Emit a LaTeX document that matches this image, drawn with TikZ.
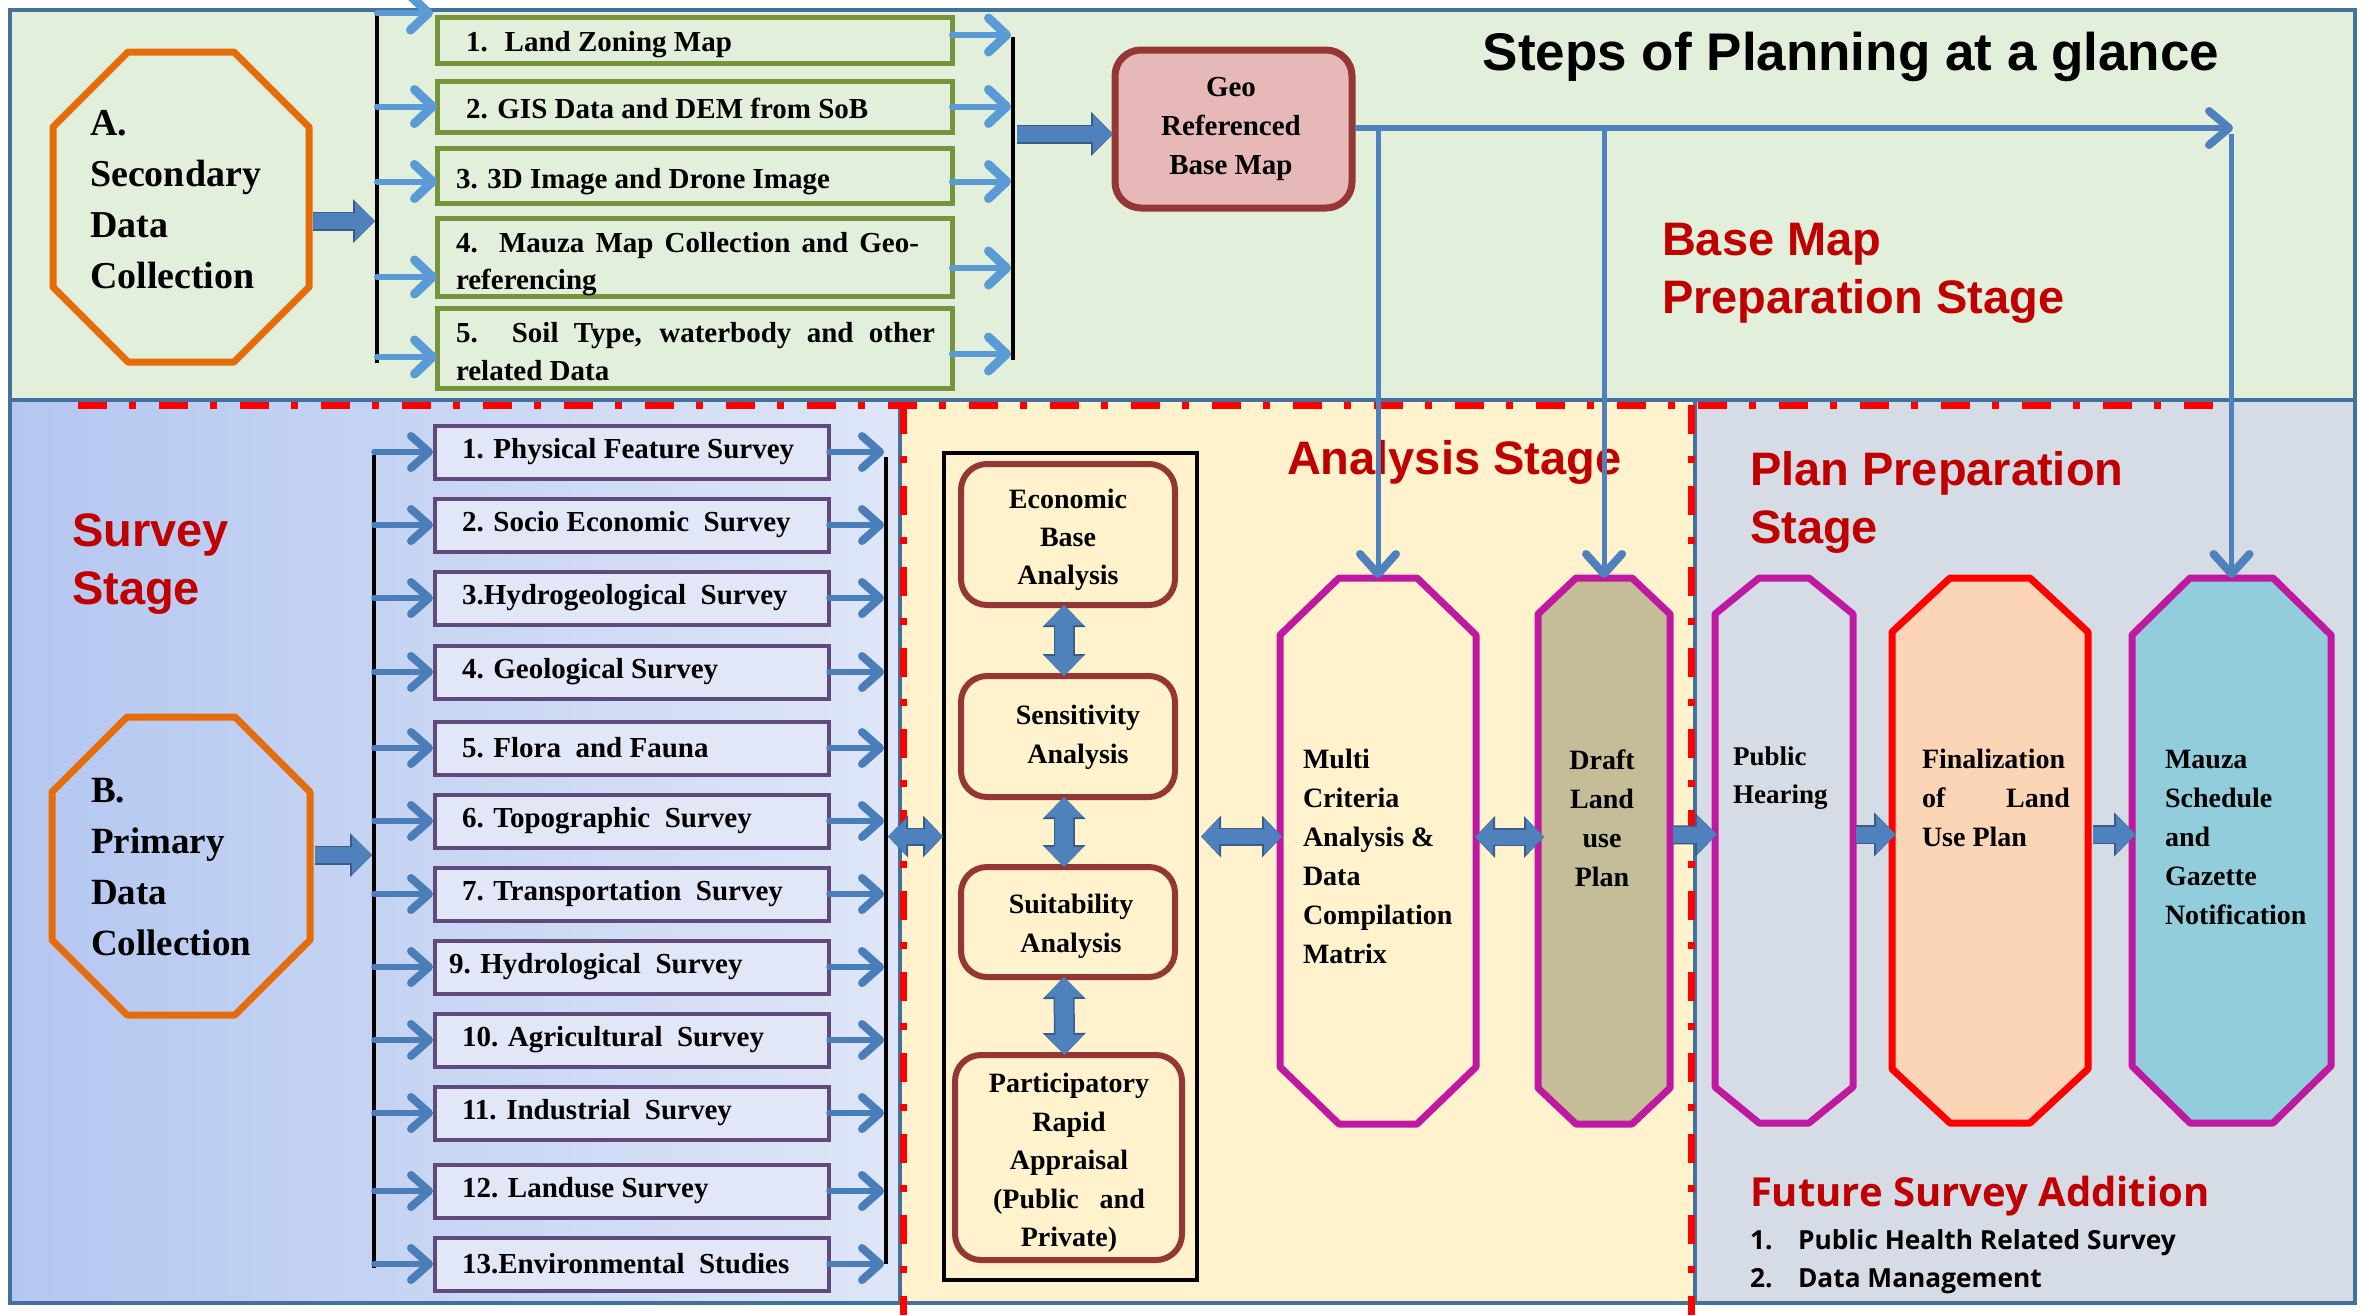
\documentclass[tikz,border=0pt]{standalone}
\usepackage{fontspec}
\setmainfont{Liberation Serif}
\newfontfamily\arialf{Liberation Sans}
\newfontfamily\osansf{Open Sans}
\usetikzlibrary{arrows.meta,calc,fit}
\definecolor{topbg}{RGB}{226,239,218}
\definecolor{survL}{RGB}{180,199,240}
\definecolor{survR}{RGB}{222,230,247}
\definecolor{anbg}{RGB}{255,242,204}
\definecolor{planbg}{RGB}{214,220,229}
\definecolor{panelborder}{RGB}{65,113,156}
\definecolor{lightarrow}{RGB}{91,155,213}
\definecolor{midarrow}{RGB}{74,126,187}
\definecolor{fatfill}{RGB}{79,129,189}
\definecolor{fatdark}{RGB}{56,93,138}
\definecolor{orangeoct}{RGB}{228,108,10}
\definecolor{greenbox}{RGB}{119,147,60}
\definecolor{geofill}{RGB}{230,185,184}
\definecolor{geodraw}{RGB}{149,55,53}
\definecolor{brownbox}{RGB}{148,54,52}
\definecolor{magoct}{RGB}{190,25,160}
\definecolor{draftfill}{RGB}{196,189,151}
\definecolor{finfill}{RGB}{251,213,181}
\definecolor{mauzafill}{RGB}{146,205,220}
\definecolor{stagered}{RGB}{192,0,0}
\definecolor{survbox}{RGB}{96,74,123}
\definecolor{survfill}{RGB}{225,231,247}
\newcommand\octagonpath[4]{%
  \draw[#4] ([xshift=#2]#1.north west) -- ([xshift=-#2]#1.north east) -- ([yshift=-#3]#1.north east) -- ([yshift=#3]#1.south east) -- ([xshift=-#2]#1.south east) -- ([xshift=#2]#1.south west) -- ([yshift=#3]#1.south west) -- ([yshift=-#3]#1.north west) -- cycle;}
\begin{document}
\begin{tikzpicture}[x=1pt,y=-1pt,
  frame/.style={inner sep=0pt, outer sep=0pt, draw=none},
  toparr/.style={draw=lightarrow, line width=6pt, line cap=round, -{Straight Barb[length=18pt,width=34pt,line width=9pt,round]}},
  survarr/.style={draw=midarrow, line width=5.5pt, line cap=round, -{Straight Barb[length=18pt,width=32pt,line width=8pt,round]}},
  geoarr/.style={draw=fatfill, line width=6pt, -{Straight Barb[length=20pt,width=34pt,line width=8pt,round]}},
  vgeo/.style={draw=fatfill, line width=5pt, -{Straight Barb[length=20pt,width=36pt,line width=8pt,round]}},
  fat/.style={draw=fatfill, line width=16pt, -{Triangle[length=20pt,width=38pt,line width=0pt]},
     preaction={draw=fatdark, line width=19pt, -{Triangle[length=22pt,width=44pt,line width=0pt]}}},
  fatdbl/.style={draw=fatfill, line width=15pt, {Triangle[length=18pt,width=36pt,line width=0pt]}-{Triangle[length=18pt,width=36pt,line width=0pt]},
     preaction={draw=fatdark, line width=18pt, {Triangle[length=20pt,width=42pt,line width=0pt]}-{Triangle[length=20pt,width=42pt,line width=0pt]}}},
  vdbl/.style={draw=fatfill, line width=18pt, {Triangle[length=20pt,width=38pt,line width=0pt]}-{Triangle[length=20pt,width=38pt,line width=0pt]},
     preaction={draw=fatdark, line width=21pt, {Triangle[length=22pt,width=43pt,line width=0pt]}-{Triangle[length=22pt,width=43pt,line width=0pt]}}},
  bracket/.style={draw=black, line width=4pt},
  panelb/.style={draw=panelborder, line width=3.5pt},
  reddash/.style={draw=red, line width=7pt, dash pattern=on 29pt off 22pt on 7pt off 23pt},
  gbox/.style={frame, draw=greenbox, line width=5pt},
  sbox/.style={inner sep=0pt, outer sep=0pt, draw=survbox, fill=survfill, line width=4pt, minimum width=394pt, minimum height=53pt},
  abox/.style={frame, draw=brownbox, line width=6pt, rounded corners=26pt},
  txt/.style={inner sep=0pt, outer sep=0pt, text=black},
  stagetxt/.style={inner sep=0pt, outer sep=0pt, text=stagered, align=left, font=\arialf\bfseries\fontsize{47}{58}\selectfont},
  octorange/.style={draw=orangeoct, line width=7pt, line join=round},
  octmag/.style={draw=magoct, line width=7pt, line join=round}
]
\useasboundingbox (0,0) rectangle (2369,1315);
\fill[white] (0,0) rectangle (2369,1315);
% panels
\fill[topbg] (10,10) rectangle (2355,400);
\shade[left color=survL, right color=survR] (10,400) rectangle (900,1303);
\fill[anbg] (900,400) rectangle (1695,1303);
\fill[planbg] (1695,400) rectangle (2355,1303);
\draw[panelb] (10,10) rectangle (2355,400);
\draw[panelb] (10,400) rectangle (900,1303);
\draw[panelb] (900,400) rectangle (1695,1303);
\draw[panelb] (1695,400) rectangle (2355,1303);
% red stage borders
\draw[reddash] (78,405) -- (2232,405);
\draw[reddash] (903,405) -- (903,1315);
\draw[reddash] (1691,405) -- (1691,1315);

% ---------- top panel ----------
\node[frame, fit={(53,52) (309,362)}] (octA) {};
\octagonpath{octA}{75pt}{75pt}{octorange}
\node[txt, anchor=west, align=left, font=\bfseries\fontsize{38}{51}\selectfont] (octAtxt) at (90,200) {A.\\Secondary\\Data\\Collection};

\coordinate (brAtop) at (377,13);
\coordinate (brAbot) at (377,363);
\coordinate (brBtop) at (1013,37);
\coordinate (brBbot) at (1013,360);
\coordinate (stubA) at (433,13);
\draw[bracket] (brAtop) -- (brAbot);
\draw[bracket] (brBtop) -- (brBbot);

\node[gbox, fit={(437,17) (952,63)}] (b1) {};
\node[gbox, fit={(437,81) (952,132)}] (b2) {};
\node[gbox, fit={(437,148) (952,203)}] (b3) {};
\node[gbox, fit={(437,218) (952,296)}] (b4) {};
\node[gbox, fit={(437,308) (952,388)}] (b5) {};
\node[txt, anchor=west, font=\bfseries\fontsize{29}{37}\selectfont] (tb1) at (466,45) {1.~ Land Zoning Map};
\node[txt, anchor=west, font=\bfseries\fontsize{29}{37}\selectfont] (tb2) at (466,108) {2. GIS Data and DEM from SoB};
\node[txt, anchor=west, font=\bfseries\fontsize{29}{37}\selectfont] (tb3) at (456,182) {3. 3D Image and Drone Image};
\node[txt, anchor=west, align=left, font=\bfseries\fontsize{29}{37}\selectfont] (tb4) at (456,264) {\makebox[463pt][s]{4. Mauza Map Collection and Geo-}\\referencing};
\node[txt, anchor=west, align=left, font=\bfseries\fontsize{29}{38}\selectfont] (tb5) at (456,352) {\makebox[479pt][s]{5. Soil Type, waterbody and other}\\related Data};

\draw[toparr] (brAtop) -- (stubA);
\draw[toparr] (brAtop |- b2.west) -- (b2.west);
\draw[toparr] ($(brAtop |- b3.west)+(0,6)$) -- ($(b3.west)+(0,6)$);
\draw[toparr] ($(brAtop |- b4.west)+(0,20)$) -- ($(b4.west)+(0,20)$);
\draw[toparr] ($(brAtop |- b5.west)+(0,9)$) -- ($(b5.west)+(0,9)$);
\draw[toparr] ($(b1.east)+(0,-5)$) -- ($(b1.east -| brBtop)+(-2,-5)$);
\draw[toparr] (b2.east) -- ($(b2.east -| brBtop)+(-2,0)$);
\draw[toparr] ($(b3.east)+(0,6)$) -- ($(b3.east -| brBtop)+(-2,6)$);
\draw[toparr] ($(b4.east)+(0,11)$) -- ($(b4.east -| brBtop)+(-2,11)$);
\draw[toparr] ($(b5.east)+(0,6)$) -- ($(b5.east -| brBtop)+(-2,6)$);

\draw[fat] ($(octA.east)+(4,14)$) -- ($(octA.east -| brAtop)+(-2,14)$);

\node[frame, fit={(1115,50) (1352,208)}, draw=geodraw, fill=geofill, line width=7pt, rounded corners=26pt] (geo) {};
\node[txt, align=center, font=\bfseries\fontsize{29}{39}\selectfont] (geotxt) at (1231,129) {Geo\\Referenced\\Base Map};
\draw[fat] ($(geo.west -| brBtop)+(4,5)$) -- ($(geo.west)+(-2,5)$);

\node[txt, font=\arialf\bfseries\fontsize{53}{60}\selectfont] (title) at (1851,57) {Steps of Planning at a glance};
\node[stagetxt, anchor=west] (bmstage) at (1662,273) {Base Map\\Preparation Stage};

% ---------- survey panel ----------
\node[stagetxt, anchor=west] (svstage) at (72,564) {Survey\\Stage};
\node[frame, fit={(52,717) (310,1015)}] (octB) {};
\octagonpath{octB}{75pt}{75pt}{octorange}
\node[txt, anchor=west, align=left, font=\bfseries\fontsize{37}{51}\selectfont] (octBtxt) at (91,867) {B.\\Primary\\Data\\Collection};

\coordinate (sbrLtop) at (374,455);
\coordinate (sbrLbot) at (374,1268);
\coordinate (sbrRtop) at (886,457);
\coordinate (sbrRbot) at (886,1264);
\draw[bracket] (sbrLtop) -- (sbrLbot);
\draw[bracket] (sbrRtop) -- (sbrRbot);

\foreach \i/\yc/\tx/\lab in {
  1/452/462/{1. Physical Feature Survey},
  2/525/462/{2. Socio Economic~ Survey},
  3/598/462/{3.Hydrogeological~ Survey},
  4/672/462/{4. Geological Survey},
  5/748/462/{5. Flora~ and Fauna},
  6/821/462/{6. Topographic~ Survey},
  7/894/462/{7. Transportation~ Survey},
  8/967/449/{9. Hydrological~ Survey},
  9/1040/462/{10. Agricultural~ Survey},
  10/1113/462/{11. Industrial~ Survey},
  11/1191/462/{12. Landuse Survey},
  12/1264/462/{13.Environmental~ Studies}}{
  \node[sbox] (s\i) at (632,\yc) {};
  \node[txt, anchor=west, font=\bfseries\fontsize{29}{35}\selectfont] (st\i) at (\tx,\yc) {\lab};
  \draw[survarr] (sbrLtop |- s\i.west) -- ($(s\i.west)+(-2,0)$);
  \draw[survarr] (s\i.east) -- ($(s\i.east -| sbrRtop)+(-2,0)$);
}
\draw[fat] ($(octB.east)+(5,-11)$) -- ($(octB.east -| sbrLtop)+(-2,-11)$);

% ---------- analysis panel ----------
\node[stagetxt, anchor=west] (anstage) at (1287,462) {Analysis Stage};
\node[frame, fit={(944,453) (1197,1280)}, draw=black, line width=4pt] (bb) {};
\node[abox, fit={(961,464) (1175,605)}] (eb) {};
\node[abox, fit={(961,676) (1175,797)}] (sa) {};
\node[abox, fit={(961,867) (1175,977)}] (su) {};
\node[abox, fit={(955,1055) (1182,1260)}] (pr) {};
\node[txt, align=center, font=\bfseries\fontsize{28}{38}\selectfont] (ebt) at (1068,540) {Economic\\Base\\Analysis};
\node[txt, align=center, font=\bfseries\fontsize{28}{39}\selectfont] (sat) at (1078,737) {Sensitivity\\Analysis};
\node[txt, align=center, font=\bfseries\fontsize{28}{39}\selectfont] (sut) at (1071,926) {Suitability\\Analysis};
\node[txt, align=center, font=\bfseries\fontsize{28}{38.5}\selectfont] (prt) at (1069,1163) {Participatory\\Rapid\\Appraisal\\(Public\hspace{0.5em} and\\Private)};
\draw[vdbl] ($(eb.south)+(-4,0)$) -- ($(sa.north)+(-4,0)$);
\draw[vdbl] ($(sa.south)+(-4,0)$) -- ($(su.north)+(-4,0)$);
\draw[vdbl] ($(su.south)+(-4,0)$) -- ($(pr.north)+(-4,0)$);

\node[frame, fit={(1280,578) (1476,1124)}] (multi) {};
\octagonpath{multi}{59pt}{57pt}{octmag}
\node[txt, anchor=west, align=left, font=\bfseries\fontsize{28}{39}\selectfont] (multit) at (1303,856) {Multi\\Criteria\\Analysis \&\\Data\\Compilation\\Matrix};

\node[frame, fit={(1538,578) (1670,1124)}] (draft) {};
\octagonpath{draft}{38pt}{36pt}{octmag, fill=draftfill}
\node[txt, align=center, font=\bfseries\fontsize{28}{39}\selectfont] (draftt) at (1602,818) {Draft\\Land\\use\\Plan};

\draw[fatdbl] ($(sbrRtop |- bb.west)+(2,-30)$) -- ($(bb.west)+(-1,-30)$);
\draw[fatdbl] ($(bb.east)+(4,-30)$) -- ($(bb.east -| multi.west)+(2,-30)$);
\draw[fatdbl] ($(multi.east)+(-1,-14)$) -- ($(draft.west)+(6,-14)$);

% ---------- plan panel ----------
\node[stagetxt, anchor=west] (plstage) at (1750,502) {Plan Preparation\\Stage};
\node[frame, fit={(1715,578) (1853,1123)}] (public) {};
\octagonpath{public}{44pt}{36pt}{octmag}
\node[txt, anchor=west, align=left, font=\bfseries\fontsize{27}{38}\selectfont] (publict) at (1733,778) {Public\\Hearing};

\node[frame, fit={(1892,578) (2088,1123)}] (final) {};
\octagonpath{final}{58pt}{54pt}{draw=red, line width=7pt, line join=round, fill=finfill}
\node[txt, anchor=west, align=left, font=\bfseries\fontsize{28}{39}\selectfont] (finalt) at (1922,798) {Finalization\\\makebox[148pt][s]{of Land}\\Use Plan};

\node[frame, fit={(2132,578) (2331,1123)}] (mauza) {};
\octagonpath{mauza}{58pt}{57pt}{octmag, fill=mauzafill}
\node[txt, anchor=west, align=left, font=\bfseries\fontsize{28}{39}\selectfont] (mauzat) at (2165,837) {Mauza\\Schedule\\and\\Gazette\\Notification};

\draw[fat] ($(draft.east)+(3,-16)$) -- ($(public.west)+(2,-16)$);
\draw[fat] ($(public.east)+(3,-16)$) -- ($(final.west)+(4,-16)$);
\draw[fat] ($(final.east)+(5,-16)$) -- ($(mauza.west)+(4,-16)$);

\node[txt, anchor=west, text=stagered, font=\osansf\bfseries\fontsize{40}{45}\selectfont] (future) at (1750,1196) {Future Survey Addition};
\node[txt, anchor=west, font=\osansf\bfseries\fontsize{26.3}{30}\selectfont] (fl1) at (1750,1243) {\makebox[48pt][l]{1.}Public Health Related Survey};
\node[txt, anchor=west, font=\osansf\bfseries\fontsize{26.3}{30}\selectfont] (fl2) at (1750,1281) {\makebox[48pt][l]{2.}Data Management};

% ---------- base map connectors ----------
\coordinate (glend) at (2233,128);
\draw[geoarr] ($(geo.east)+(3,-1)$) -- (glend);
\draw[vgeo] (multi.north |- glend) -- (multi.north);
\draw[vgeo] (draft.north |- glend) -- (draft.north);
\draw[vgeo] ($(mauza.north |- glend)+(0,6)$) -- (mauza.north);
\end{tikzpicture}
\end{document}
